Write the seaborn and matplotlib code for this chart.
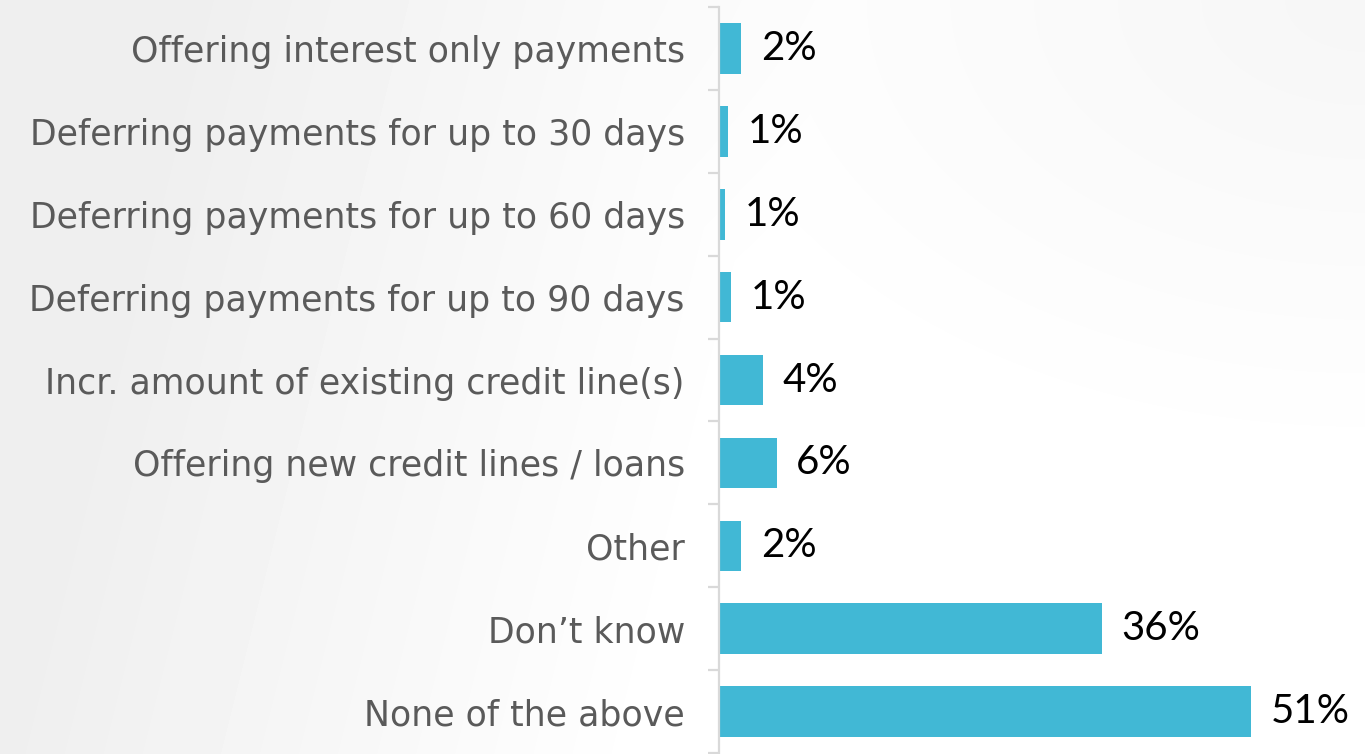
import matplotlib
matplotlib.use("Agg")
import matplotlib.pyplot as plt
import numpy as np
import seaborn as sns
from matplotlib.ticker import FixedLocator

categories = [
    "Offering interest only payments",
    "Deferring payments for up to 30 days",
    "Deferring payments for up to 60 days",
    "Deferring payments for up to 90 days",
    "Incr. amount of existing credit line(s)",
    "Offering new credit lines / loans",
    "Other",
    "Don\u2019t know",
    "None of the above",
]
values = [2.1, 0.85, 0.55, 1.15, 4.2, 5.5, 2.1, 36.7, 51.0]
value_labels = ["2%", "1%", "1%", "1%", "4%", "6%", "2%", "36%", "51%"]

BAR_COLOR = "#41B8D5"
AXIS_GRAY = "#d9d9d9"

sns.set_theme(style="white")
plt.rcParams["font.family"] = ["DejaVu Sans"]

fig = plt.figure(figsize=(13.65, 7.54), dpi=100)

# soft gray gradient background: gray on the left and top right, white elsewhere
bg = fig.add_axes([0, 0, 1, 1], zorder=0)
yy, xx = np.mgrid[0:754, 0:1365]
left_fade = 0.935 + 0.065 * np.clip((xx - 0.25 * (754 - yy)) / 650, 0, 1)
corner = 0.035 * np.clip(1 - np.hypot((xx - 1365) / 750, yy / 480), 0, 1)
shade = left_fade - corner
bg.imshow(shade, cmap="gray", vmin=0, vmax=1, aspect="auto", extent=[0, 1, 0, 1])
bg.axis("off")

ax = fig.add_axes([0.5271, 0.0013, 0.4729, 0.9894], zorder=1)
ax.patch.set_alpha(0)

sns.barplot(x=values, y=categories, orient="h", color=BAR_COLOR,
            width=0.61, saturation=1, linewidth=0, ax=ax)

ax.bar_label(ax.containers[0], labels=value_labels, padding=14,
             fontsize=29, family="Lato", color="black")

ax.set_xlim(0, 61.95)
ax.set_ylim(8.5, -0.5)
ax.set_xlabel("")
ax.set_ylabel("")
ax.set_xticks([])

for side in ["top", "right", "bottom"]:
    ax.spines[side].set_visible(False)
ax.spines["left"].set_color(AXIS_GRAY)
ax.spines["left"].set_linewidth(1.6)

ax.yaxis.set_minor_locator(FixedLocator(np.arange(-0.5, 9.0, 1.0)))
ax.tick_params(axis="y", which="major", length=0, pad=25,
               labelsize=25, labelcolor="#5a5a5a")
ax.tick_params(axis="y", which="minor", length=8, width=1.6,
               color=AXIS_GRAY, left=True)

fig.savefig("out.png", dpi=100)
